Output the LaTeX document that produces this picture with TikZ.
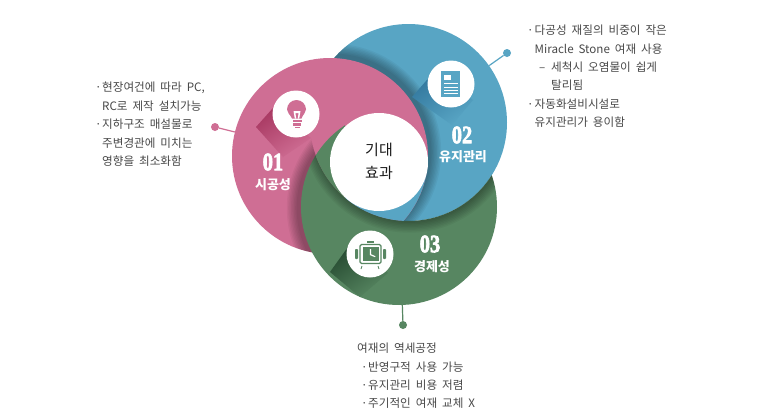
\documentclass[tikz,border=0pt]{standalone}
\usepackage{fontspec}
\setmainfont{Noto Sans CJK KR}[WordSpace=1.9]
\newfontfamily\numfont{Liberation Serif}[FakeBold=3]
\newfontfamily\capfont{Noto Sans CJK KR}
\usetikzlibrary{calc}
\definecolor{pinkc}{HTML}{CF6E94}
\definecolor{bluec}{HTML}{58A5C4}
\definecolor{greenc}{HTML}{578661}
\definecolor{pinkd}{HTML}{A93A63}
\definecolor{blued}{HTML}{33789E}
\definecolor{greend}{HTML}{23472E}
\definecolor{textc}{HTML}{484848}
\tikzset{
  disc/.style={circle,inner sep=0pt,minimum size=#1},
  dotn/.style={circle,inner sep=0pt,minimum size=8pt},
  icon/.style={circle,inner sep=0pt,minimum size=47pt,fill=white},
  body/.style={inner sep=0pt,anchor=north west,align=left,text=textc,font=\fontsize{11.6pt}{18.4pt}\selectfont},
  num/.style={inner sep=0pt,text=white,font=\fontsize{25pt}{25pt}\numfont\bfseries},
  captext/.style={inner sep=0pt,text=white,font=\fontsize{13pt}{15pt}\capfont\bfseries},
}
\newcommand{\ringshadow}[4]{% center shift radius color steps
  \foreach \k in {1,...,8}{
    \fill[#4,opacity=.042] ($(#1)+(#2)$) circle ({97pt+\k*1.4pt});
  }
}
\newcommand{\bul}[1]{\makebox[#1][l]{·}}
\begin{document}
\begin{tikzpicture}[x=1pt,y=-1pt]
\useasboundingbox (0,0) rectangle (763,410);
\fill[white] (0,0) rectangle (763,410);
\coordinate (cp) at (330,156);
\coordinate (cb) at (408.5,122.5);
\coordinate (cg) at (399,207);

% named outlines for connectors
\node[disc=196pt] (pink) at (cp) {};
\node[disc=197pt] (blue) at (cb) {};
\node[disc=196pt] (green) at (cg) {};
\node[dotn,fill=pinkc] (dp) at (215,127) {};
\node[dotn,fill=bluec] (db) at (507,53) {};
\node[dotn,fill=greenc] (dg) at (403,325) {};
\draw[pinkc,line width=1.2pt] (dp) -- (pink);
\draw[bluec,line width=1.2pt] (db) -- (blue);
\draw[greenc,line width=1.2pt] (dg) -- (green);

% blue disc
\fill[bluec] (cb) circle (98.5pt);
% pink shadow on blue
\begin{scope}
\clip (cb) circle (98.5pt);
\ringshadow{cp}{3,-4}{}{black}
\end{scope}
% long shadow blue
\begin{scope}
\clip (cb) circle (98.5pt);
\shade[top color=blued,bottom color=bluec,shading angle=35] (433,73) -- (412,97) -- (452,125) -- (473,100) -- cycle;
\end{scope}
% pink disc
\fill[pinkc] (cp) circle (98pt);
% green shadow on pink, outside blue
\begin{scope}[even odd rule]
\clip (cp) circle (98pt);
\clip (0,0) rectangle (763,410) (cb) circle (98.5pt);
\ringshadow{cg}{-4,1}{}{black}
\end{scope}
\shade[top color=pinkd,bottom color=pinkc,shading angle=35] (273,108) -- (256,127) -- (283,157) -- (311,138) -- cycle;
% green disc outside blue
\begin{scope}[even odd rule]
\clip (0,0) rectangle (763,410) (cb) circle (98.5pt);
\fill[greenc] (cg) circle (98pt);
\end{scope}
% blue shadow on green
\begin{scope}[even odd rule]
\clip (cg) circle (98pt);
\clip (0,0) rectangle (763,410) (cb) circle (98.5pt);
\ringshadow{cb}{1,2}{}{black}
\end{scope}
% long shadow green
\begin{scope}
\clip (cg) circle (98pt);
\shade[top color=greend,bottom color=greenc,shading angle=35] (353,240) -- (330,272) -- (360,297) -- (388,273) -- cycle;
\end{scope}
% triple region patches
\begin{scope}
\clip (cp) circle (98pt);
\clip (cb) circle (98.5pt);
\clip (cg) circle (98pt);
\fill[greenc] (300,100) rectangle (345,230);
\fill[bluec] (345,162) rectangle (440,230);
\end{scope}

\node[disc=98pt,fill=white] (core) at (379,162) {};
\node[align=center,inner sep=0pt,font=\fontsize{15pt}{23pt}\selectfont,text=black!90] (coret) at (379,161.5) {기대\\효과};

% icons
\node[icon] (ip) at (296,114) {};
\node[icon] (ib) at (451,84) {};
\node[icon] (ig) at (370,254) {};

% bulb
\fill[pinkc] (292,118.5) .. controls (290,114) and (287,113) .. (287,109.5) arc[start angle=180,end angle=0,radius=9.5pt] .. controls (306,113) and (303,114) .. (301.5,118.5) -- cycle;
\fill[pinkc] (292.5,119.5) rectangle (301.5,122);
\fill[pinkc] (293,123) rectangle (301,125.5);
\fill[pinkc] (294.5,126.5) rectangle (299.5,128);
\fill[white] (294.8,118.5) -- (293.5,111) -- (300.5,111) -- (299.2,118.5) -- (297.8,118.5) -- (298.6,113) -- (295.4,113) -- (296.2,118.5) -- cycle;

% document
\fill[bluec] (441,71) rectangle (460,97);
\fill[white] (443.5,74.5) rectangle (451,79.5);
\foreach \yy in {83,86.5,90,93.2}{\fill[white] (443.5,\yy) rectangle (458,\yy+1);}

% clock
\draw[greenc,line width=1.3pt,rounded corners=1.5pt] (360,244.5) rectangle (381,263.5);
\fill[greenc] (362.5,247) rectangle (378.5,261);
\fill[white] (369.8,249) -- (371,249) -- (371,254.2) -- (375.5,256.2) -- (375,257.2) -- (369.8,255) -- cycle;
\fill[greenc] (367,241) rectangle (374,243);
\fill[greenc,rounded corners=.8pt] (355,249) rectangle (358,259);
\fill[greenc,rounded corners=.8pt] (383,249) rectangle (386,259);
\draw[greenc,line width=.9pt] (362,266) -- (361,269);
\draw[greenc,line width=.9pt] (378,266) -- (379,269);

% labels on discs
\node[num] (n1) at (273,162) {\scalebox{.82}[1]{01}};
\node[captext] (c1) at (273,185) {시공성};
\node[num] (n2) at (462,135) {\scalebox{.82}[1]{02}};
\node[captext] (c2) at (463,157) {유지관리};
\node[num] (n3) at (430,244) {\scalebox{.82}[1]{03}};
\node[captext] (c3) at (432,267) {경제성};

% body texts
\node[body] (tl) at (95,82) {\bul{7pt}현장여건에 따라 PC,\\\hspace*{7pt}RC로 제작 설치가능\\\bul{7pt}지하구조 매설물로\\\hspace*{7pt}주변경관에 미치는\\\hspace*{7pt}영향을 최소화함};
\node[body] (tr) at (527,25) {\bul{7.5pt}다공성 재질의 비중이 작은\\\hspace*{7.5pt}Miracle Stone 여재 사용\\\hspace*{12pt}\makebox[12pt][l]{–}세척시 오염물이 쉽게\\\hspace*{24pt}탈리됨\\\bul{7.5pt}자동화설비시설로\\\hspace*{7.5pt}유지관리가 용이함};
\node[body] (tb) at (357,343) {여재의 역세공정\\\hspace*{4pt}\bul{7pt}반영구적 사용 가능\\\hspace*{4pt}\bul{7pt}유지관리 비용 저렴\\\hspace*{4pt}\bul{7pt}주기적인 여재 교체 X};
\end{tikzpicture}
\end{document}
